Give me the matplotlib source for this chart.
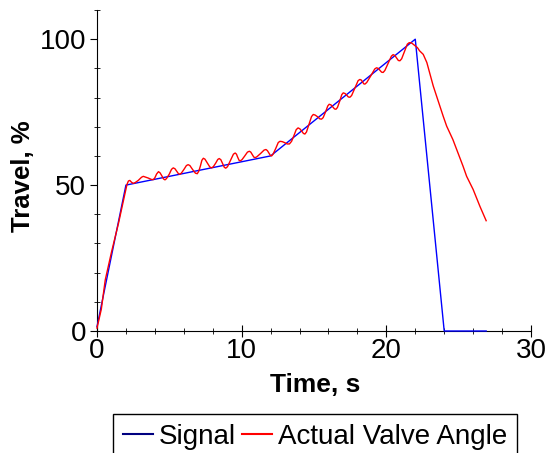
#Grafica de recorrido de la valvula
import matplotlib
matplotlib.use("Agg")
import matplotlib.pyplot as plt
from matplotlib.ticker import MultipleLocator

plt.rcParams['font.family'] = ['Liberation Sans', 'DejaVu Sans']

#señal de mando
t_signal = [0, 2, 12, 22, 24, 26.9]
signal = [1.5, 50, 60, 100, 0, 0]

t_valve = [0.0, 0.3, 0.57, 1.0, 1.49, 1.8, 2.07, 2.17, 2.27, 2.38, 2.5, 2.62, 2.85, 3.08,
           3.2, 3.32, 3.55, 3.78, 3.9, 4.0, 4.12, 4.25, 4.36, 4.48, 4.6, 4.7, 4.8, 5.0,
           5.15, 5.27, 5.39, 5.5, 5.63, 5.73, 5.83, 6.0, 6.18, 6.3, 6.42, 6.6, 6.8, 6.93,
           7.04, 7.15, 7.25, 7.35, 7.46, 7.62, 7.8, 7.92, 8.04, 8.2, 8.35, 8.45, 8.56, 8.68,
           8.8, 8.9, 9.02, 9.22, 9.43, 9.55, 9.64, 9.72, 9.82, 9.9, 10.02, 10.2, 10.4, 10.53,
           10.63, 10.73, 10.84, 10.93, 11.05, 11.3, 11.55, 11.68, 11.78, 11.88, 11.98, 12.07,
           12.17, 12.35, 12.53, 12.65, 12.8, 12.95, 13.15, 13.3, 13.45, 13.6, 13.77, 13.9,
           14.02, 14.15, 14.27, 14.37, 14.48, 14.65, 14.83, 14.95, 15.08, 15.25, 15.4, 15.52,
           15.63, 15.8, 15.95, 16.05, 16.17, 16.3, 16.42, 16.52, 16.62, 16.78, 16.92, 17.02,
           17.14, 17.25, 17.37, 17.48, 17.6, 17.82, 18.05, 18.17, 18.27, 18.35, 18.44, 18.52,
           18.65, 18.92, 19.2, 19.32, 19.44, 19.55, 19.67, 19.78, 19.9, 20.12, 20.35, 20.47,
           20.59, 20.7, 20.83, 20.94, 21.06, 21.25, 21.45, 21.58, 21.7, 21.8, 22.0, 22.15,
           22.3, 22.55, 22.8, 23.24, 23.93, 24.17, 24.6, 25.3, 25.55, 26.0, 26.47, 26.9]
valve = [1.0, 7.5, 17.5, 27, 37, 44, 50.2, 51.4, 51.6, 51.0, 50.6, 50.8, 51.6, 52.7,
         53.0, 52.8, 52.4, 51.9, 51.9, 52.5, 53.8, 54.6, 54.2, 53.2, 52.1, 51.8, 52.2, 53.8,
         55.4, 55.9, 55.6, 54.8, 53.9, 53.7, 54.1, 55.3, 56.7, 57.0, 56.7, 55.4, 54.1, 53.9,
         54.8, 56.6, 58.5, 59.2, 58.9, 57.6, 56.2, 55.9, 56.3, 57.5, 58.8, 59.1, 58.7, 57.4,
         56.1, 55.8, 56.3, 58.4, 60.6, 61.0, 60.6, 59.6, 58.5, 58.3, 58.7, 59.9, 61.3, 61.6,
         61.3, 60.5, 59.6, 59.4, 59.7, 60.8, 62.0, 62.2, 61.8, 61.0, 60.2, 60.0,
         60.6, 62.5, 64.6, 65.0, 64.9, 64.6, 64.1, 64.1, 65.0, 66.8, 69.0, 69.6,
         69.3, 68.5, 67.7, 67.5, 68.2, 70.8, 73.5, 74.2, 74.0, 73.4, 72.7, 72.6,
         73.1, 75.1, 77.1, 77.7, 77.5, 76.8, 76.1, 76.0, 76.6, 78.8, 81.0, 81.6,
         81.4, 80.9, 80.2, 80.1, 80.7, 83.2, 85.8, 86.2, 86.0, 85.4, 84.7, 84.6,
         85.2, 87.4, 89.8, 90.2, 90.0, 89.4, 88.7, 88.6, 89.3, 91.7, 94.2, 94.7,
         94.4, 93.6, 92.7, 92.6, 93.3, 95.7, 98.3, 98.8, 98.8, 98.5, 97.7, 97.1,
         96.0, 94.8, 92.0, 84.0, 73.6, 70.2, 65.6, 56.5, 53.0, 48.5, 42.7, 37.8]

fig = plt.figure(figsize=(5.48, 4.53), dpi=100)
ax = fig.add_axes([0.177, 0.2693, 0.792, 0.7086])

ax.plot(t_signal, signal, color="#0000ff", lw=1.0, label="Signal", zorder=3, clip_on=False)
ax.plot(t_valve, valve, color="#ff0000", lw=1.0, label="Actual Valve Angle", zorder=3, clip_on=False)

ax.set_xlim(0, 30)
ax.set_ylim(0, 110)
ax.spines['top'].set_visible(False)
ax.spines['right'].set_visible(False)
ax.xaxis.set_major_locator(MultipleLocator(10))
ax.xaxis.set_minor_locator(MultipleLocator(2))
ax.yaxis.set_major_locator(MultipleLocator(50))
ax.yaxis.set_minor_locator(MultipleLocator(10))
ax.tick_params(axis='x', which='major', direction='inout', length=8, labelsize=20, pad=1)
ax.tick_params(axis='x', which='minor', direction='inout', length=4)
ax.tick_params(axis='y', which='major', direction='out', length=5, labelsize=20, pad=3)
ax.tick_params(axis='y', which='minor', direction='inout', length=5)

ax.set_xlabel("Time, s", fontsize=19, fontweight="bold")
ax.set_ylabel("Travel, %", fontsize=18.5, fontweight="bold")
ax.xaxis.set_label_coords(0.503, -0.132)
ax.yaxis.set_label_coords(-0.143, 0.483)

#leyenda abajo, cortada por el borde
h1 = plt.Line2D([], [], color="#000080", lw=1.5)
h2 = plt.Line2D([], [], color="#ff0000", lw=1.5)
leg = fig.legend([h1, h2], ["Signal", "Actual Valve Angle"], ncol=2, loc="upper left",
                 bbox_to_anchor=(113/548, 1-414/453), fontsize=20, frameon=True,
                 fancybox=False, framealpha=1, edgecolor="black", handlelength=1.1,
                 handletextpad=0.2, columnspacing=0.2, borderpad=0.35, borderaxespad=0)
leg.get_frame().set_linewidth(1.0)

plt.savefig("out.png", dpi=100)
